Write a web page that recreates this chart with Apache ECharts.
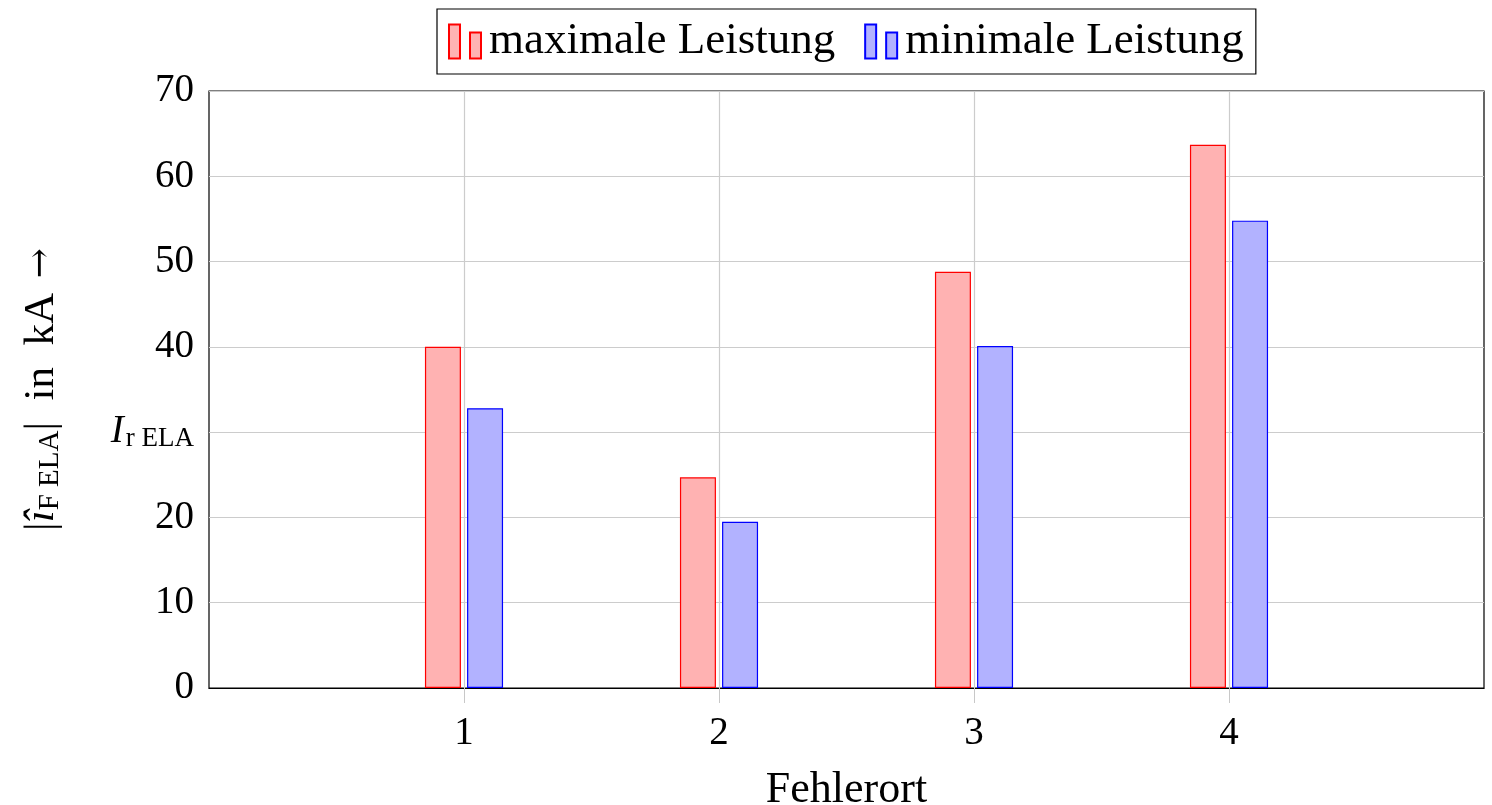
<!DOCTYPE html>
<html>
<head>
<meta charset="utf-8">
<script src="https://cdn.jsdelivr.net/npm/echarts@6/dist/echarts.min.js"></script>
<style>html,body{margin:0;padding:0;background:#fff}#c{width:1492px;height:805px}</style>
</head>
<body>
<div id="c"></div>
<script>
const positions = [1, 2, 3, 4];
const maxLeistung = [40.0, 24.7, 48.8, 63.7];
const minLeistung = [32.8, 19.5, 40.1, 54.8];
const seriesNames = ['maximale Leistung', 'minimale Leistung'];
const xTickValues = [1, 2, 3, 4];
const yMarkerValue = 30;

const FONT = '"Liberation Serif", "DejaVu Serif", serif';
const chart = echarts.init(document.getElementById('c'));
const icon = 'path://M0,0H11V34H0Z M21,8H32V34H21Z';

chart.setOption({
  animation: false,
  grid: { left: 209, right: 8, top: 91, bottom: 117, outerBoundsMode: 'none', containLabel: false,
          show: true, borderColor: '#000', borderWidth: 1.2, backgroundColor: 'transparent' },
  legend: {
    top: 9, left: 437,
    data: seriesNames,
    icon: icon,
    itemWidth: 32, itemHeight: 34, itemGap: 29,
    borderColor: '#000', borderWidth: 1.2, padding: [10, 12, 10, 11],
    textStyle: { fontFamily: FONT, fontSize: 45, color: '#000', padding: [0, 0, 0, 3] }
  },
  xAxis: {
    type: 'value', min: 0, max: 5, interval: 1,
    name: 'Fehlerort', nameLocation: 'middle', nameGap: 80,
    nameTextStyle: { fontFamily: FONT, fontSize: 44, color: '#000' },
    axisLine: { show: true, lineStyle: { color: '#000', width: 1.2 } },
    axisTick: { show: true, length: 15, customValues: xTickValues, lineStyle: { color: '#c8c8c8' } },
    axisLabel: { customValues: xTickValues, fontFamily: FONT, fontSize: 39, color: '#000', margin: 26 },
    splitLine: { show: true, lineStyle: { color: '#cccccc', width: 1.2 } }
  },
  yAxis: {
    type: 'value', min: 0, max: 70, interval: 10,
    name: '{t||}{it|î}{sub|F ELA}{t||  in  kA }{ar|→}',
    nameLocation: 'middle', nameGap: 142, nameRotate: 90,
    nameTextStyle: {
      color: '#000',
      rich: {
        t: { fontFamily: FONT, fontSize: 43, color: '#000', lineHeight: 50 },
        it: { fontFamily: FONT, fontSize: 43, fontStyle: 'italic', color: '#000', lineHeight: 50 },
        sub: { fontFamily: FONT, fontSize: 29, color: '#000', lineHeight: 50, padding: [16, 0, 0, 0] },
        ar: { fontFamily: '"DejaVu Serif", serif', fontWeight: 'lighter', fontSize: 36, color: '#000', lineHeight: 50, padding: [0, 0, 0, 4] }
      }
    },
    axisLine: { show: false },
    axisTick: { show: false },
    axisLabel: {
      fontFamily: FONT, fontSize: 39, color: '#000', margin: 15,
      formatter: function (v) { return v === yMarkerValue ? '{it|I}{sub|r ELA}' : String(v); },
      rich: {
        it: { fontFamily: FONT, fontSize: 39, fontStyle: 'italic', color: '#000', lineHeight: 44 },
        sub: { fontFamily: FONT, fontSize: 27, color: '#000', lineHeight: 44, padding: [14, 0, 0, 2] }
      }
    },
    splitLine: { show: true, lineStyle: { color: '#cccccc', width: 1.2 } }
  },
  series: [
    {
      name: seriesNames[0], type: 'bar', barWidth: 36, barGap: '17%',
      data: positions.map((p, i) => [p, maxLeistung[i]]),
      itemStyle: { color: 'rgb(255,178,178)', borderColor: '#ff0000', borderWidth: 1.2 }
    },
    {
      name: seriesNames[1], type: 'bar', barWidth: 36, barGap: '17%',
      data: positions.map((p, i) => [p, minLeistung[i]]),
      itemStyle: { color: 'rgb(178,178,255)', borderColor: '#0000ff', borderWidth: 1.2 }
    }
  ]
});
</script>
</body>
</html>
